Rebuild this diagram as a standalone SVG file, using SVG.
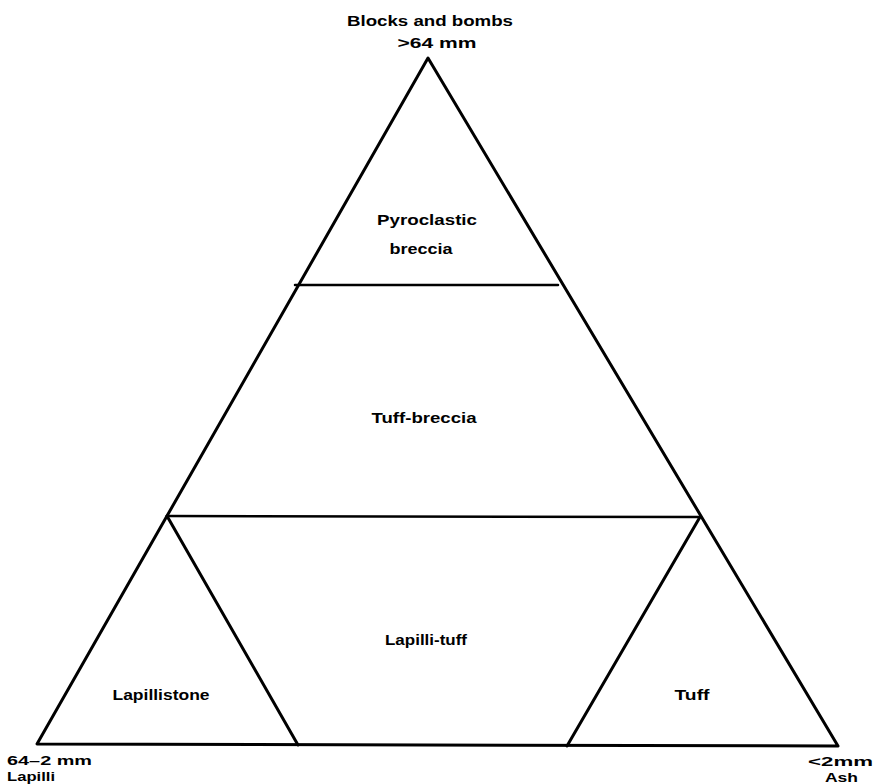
<svg xmlns="http://www.w3.org/2000/svg" width="876" height="784" viewBox="0 0 876 784">
<style>
.ln{stroke:#000;stroke-width:3;fill:none;stroke-linejoin:round;stroke-linecap:round}
.hl{stroke:#000;stroke-width:2.5;fill:none;stroke-linecap:round}
text{font-family:"Liberation Sans",Arial,sans-serif;font-weight:bold;font-size:15px;fill:#000}
.m{text-anchor:middle}
.c{font-size:13px}
</style>
<rect width="876" height="784" fill="#fff"/>
<g id="connectors">
<path class="ln" d="M37,744 L428,58 L838,746 Z"/>
<line class="hl" x1="295" y1="285" x2="558" y2="285"/>
<line class="hl" x1="167" y1="516" x2="700" y2="517"/>
<line class="ln" x1="167" y1="516" x2="298" y2="745"/>
<line class="ln" x1="700" y1="517" x2="567" y2="746"/>
</g>
<g id="apex-label">
<text x="430" y="26" class="m" textLength="166" lengthAdjust="spacingAndGlyphs">Blocks and bombs</text>
<text x="437" y="48" class="m" textLength="79" lengthAdjust="spacingAndGlyphs">&gt;64 mm</text>
</g>
<g id="pyroclastic-breccia">
<text x="427" y="225" class="m" textLength="100" lengthAdjust="spacingAndGlyphs">Pyroclastic</text>
<text x="421" y="254" class="m" textLength="63" lengthAdjust="spacingAndGlyphs">breccia</text>
</g>
<g id="tuff-breccia">
<text x="424" y="423" class="m" textLength="105" lengthAdjust="spacingAndGlyphs">Tuff-breccia</text>
</g>
<g id="lapilli-tuff">
<text x="426" y="645" class="m" textLength="82" lengthAdjust="spacingAndGlyphs">Lapilli-tuff</text>
</g>
<g id="lapillistone">
<text x="161" y="700" class="m" textLength="97" lengthAdjust="spacingAndGlyphs">Lapillistone</text>
</g>
<g id="tuff">
<text x="692" y="700" class="m" textLength="35" lengthAdjust="spacingAndGlyphs">Tuff</text>
</g>
<g id="left-corner-label">
<text class="c" x="7" y="765" textLength="85" lengthAdjust="spacingAndGlyphs">64–2 mm</text>
<text class="c" x="7" y="781" textLength="48" lengthAdjust="spacingAndGlyphs">Lapilli</text>
</g>
<g id="right-corner-label">
<text class="c" x="808" y="766" textLength="65" lengthAdjust="spacingAndGlyphs">&lt;2mm</text>
<text class="c" x="825" y="782" textLength="33" lengthAdjust="spacingAndGlyphs">Ash</text>
</g>
</svg>
